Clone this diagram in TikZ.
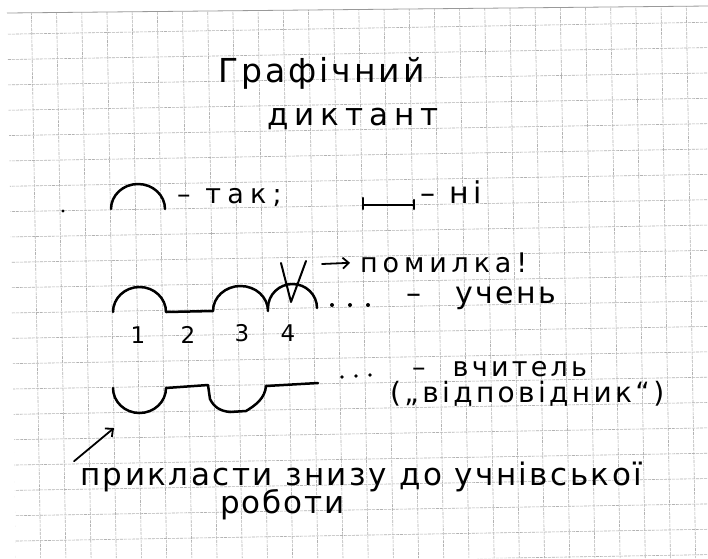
\documentclass[tikz,border=0pt]{standalone}
\usepackage{fontspec}
\newfontfamily\handfont{DejaVu Sans}
\usetikzlibrary{arrows.meta}

\begin{document}
\begin{tikzpicture}[x=1pt, y=-1pt,
	pen/.style={line width=2.5pt, line cap=round, line join=round},
	arrow/.style={line width=1.8pt, line cap=round, -{Straight Barb[length=6pt, width=11pt]}},
	gridline/.style={color=black!30, line width=0.6pt, dash pattern=on 3pt off 1pt},
	hand/.style 2 args={inner sep=0pt, font=\handfont\fontsize{#1}{#1}\selectfont\addfontfeature{LetterSpace=#2}}]
	\useasboundingbox (0,0) rectangle (708,558);
	\fill[white] (0,0) rectangle (708,558);
	% squared paper, scanned a little askew
	\begin{scope}
		\clip (7,13) -- (708,6) -- (708,558) -- (16,558) -- cycle;
		\foreach \j in {0,...,21} {
			\draw[gridline] (0,{34.3+25.35*\j}) -- (708,{34.3+25.35*\j-12.04});
		}
		\foreach \i in {-1,...,27} {
			\draw[gridline] ({31.2+25.19*\i},0) -- ({31.2+25.19*\i+9.49},558);
		}
	\end{scope}
	\draw[black!40, line width=0.8pt] (7,13) -- (708,6);
	% title
	\node[hand={33}{9}, anchor=base west] (graf) at (218,82) {Графічний};
	\node[hand={31}{19}, anchor=base west] (dykt) at (267,125) {диктант};
	% legend: arc = yes, segment = no
	\fill (63,211) circle (1.6);
	\draw[pen] (111,209) arc[start angle=180, end angle=360, x radius=27, y radius=25];
	\node[hand={27}{23}, anchor=base west] (tak) at (177,203) {– так;};
	\draw[pen] (363,205) -- (414,205);
	\draw[pen] (363,198) -- (363,209);
	\draw[pen] (414,200) -- (414,209);
	\node[hand={30}{15}, anchor=base west] (ni) at (420,203) {– ні};
	% the pupil's strip
	\draw[pen] (113,312) arc[start angle=180, end angle=360, x radius=26.5, y radius=25]
		-- (213,311) arc[start angle=180, end angle=360, x radius=27.5, y radius=25];
	\draw[pen] (268,308) arc[start angle=180, end angle=360, x radius=24.5, y radius=24];
	\draw[pen, line width=2pt] (281,263) -- (291,302) -- (306,261);
	\foreach \x in {332,350,368} {
		\fill (\x,305) circle (2);
	}
	\foreach \n/\x/\y in {1/138/335, 2/188/335, 3/242/333, 4/288/333} {
		\node[hand={23}{0}] (num\n) at (\x,\y) {\n};
	}
	\node[hand={27}{18}, anchor=base west] (err) at (360,272) {помилка!};
	\coordinate (vmark) at (322,264);
	\draw[arrow, shorten >=10pt] (vmark) -- (err.west);
	\node[hand={30}{8}, anchor=base west] (uchen) at (406,303) {–\hspace{1.15em}учень};
	% the teacher's strip
	\draw[pen] (113,388) arc[start angle=180, end angle=0, x radius=26.5, y radius=25]
		-- (208,385) -- (210,399) .. controls (214,407) and (220,411) .. (230,412)
		-- (246,411) .. controls (256,405) and (265,398) .. (266,386) -- (318,383);
	\foreach \x/\y in {342/377, 356/376, 370/375} {
		\fill (\x,\y) circle (1.8);
	}
	\node[hand={27}{12}, anchor=base west] (vchyt) at (412,376) {–\hspace{1em}вчитель};
	\node[hand={28}{12}, anchor=base west] (vidp) at (390,402) {(„відповідник“)};
	% how to use it
	\node[hand={31}{8}, anchor=base west] (apply) at (80,485) {прикласти знизу до учнівської};
	\node[hand={31}{6}, anchor=base west] (robot) at (220,513) {роботи};
	\coordinate (strip) at (114,428);
	\draw[arrow] ([xshift=-6pt]apply.north west) -- (strip);
\end{tikzpicture}
\end{document}
